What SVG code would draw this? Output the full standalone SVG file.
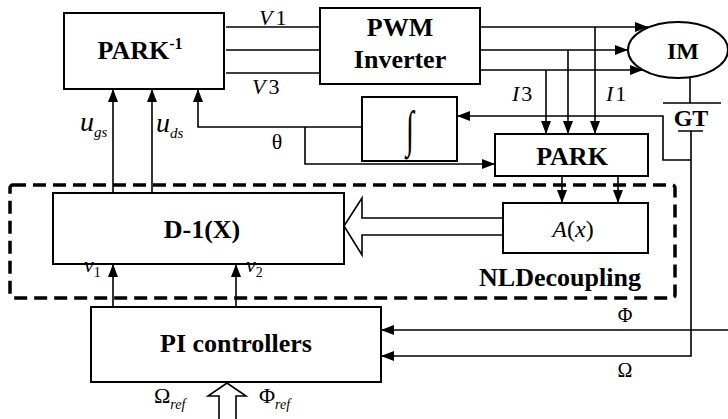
<svg xmlns="http://www.w3.org/2000/svg" width="728" height="419" viewBox="0 0 728 419">
<style>
.box{fill:#fff;stroke:#000;stroke-width:2}
.ln{fill:none;stroke:#000;stroke-width:1.6}
.hol{fill:#fff;stroke:#000;stroke-width:1.6}
.b{font-family:"Liberation Serif",serif;font-weight:bold;font-size:26px;fill:#000;text-anchor:middle}
.i{font-family:"Liberation Serif",serif;font-style:italic;font-size:22px;fill:#000}
.r{font-family:"Liberation Serif",serif;font-size:22px;fill:#000}
.s{font-family:"Liberation Serif",serif;font-style:italic;font-size:14px;fill:#000}
</style>
<defs>
<marker id="ah" markerUnits="userSpaceOnUse" markerWidth="13" markerHeight="10" refX="13" refY="5" orient="auto">
<path d="M0,0 L13,5 L0,10 z" fill="#000"/>
</marker>
</defs>
<rect width="728" height="419" fill="#fff"/>

<g id="nldecoupling">
<rect x="10" y="185" width="665" height="113" rx="3" fill="none" stroke="#000" stroke-width="3.5" stroke-dasharray="13,7"/>
<text class="b" x="560" y="286">NLDecoupling</text>
</g>

<g id="connectors">
<path class="ln" d="M226,27 H320 M226,50 H320 M226,73 H320"/>
<path class="ln" d="M480,27 H648" marker-end="url(#ah)"/>
<path class="ln" d="M480,50 H628" marker-end="url(#ah)"/>
<path class="ln" d="M480,70 H643" marker-end="url(#ah)"/>
<path class="ln" d="M595,27 V134" marker-end="url(#ah)"/>
<path class="ln" d="M568,50 V134" marker-end="url(#ah)"/>
<path class="ln" d="M546,70 V134" marker-end="url(#ah)"/>
<path class="ln" d="M690,78 V103"/>
<path class="ln" d="M663,103 H721 M678,131 H703" stroke-width="2"/>
<path class="ln" d="M691,131 V356 H381" marker-end="url(#ah)"/>
<path class="ln" d="M691,160 H663 V116 H457" marker-end="url(#ah)"/>
<path class="ln" d="M362,127 H198 V89" marker-end="url(#ah)"/>
<path class="ln" d="M305,127 V164 H495" marker-end="url(#ah)"/>
<path class="ln" d="M113,193 V89" marker-end="url(#ah)"/>
<path class="ln" d="M152,193 V89" marker-end="url(#ah)"/>
<path class="ln" d="M562,176 V203" marker-end="url(#ah)"/>
<path class="ln" d="M618,176 V203" marker-end="url(#ah)"/>
<path class="ln" d="M113,307 V264" marker-end="url(#ah)"/>
<path class="ln" d="M236,307 V264" marker-end="url(#ah)"/>
<path class="ln" d="M728,330 H381" marker-end="url(#ah)"/>
<path class="hol" d="M503,218 H362 V198 L344,226 L362,255 V235 H503"/>
<path class="hol" d="M219,419 V396 H208 L227,383 L246,396 H236 V419"/>
</g>

<g id="park_inv">
<rect class="box" x="64" y="13" width="160" height="76"/>
<text class="b" x="140" y="59">PARK<tspan style="font-size:16px" dy="-10">-1</tspan></text>
</g>

<g id="pwm">
<rect class="box" x="320" y="8" width="160" height="76"/>
<text class="b" x="400" y="36">PWM</text>
<text class="b" x="400" y="68">Inverter</text>
</g>

<g id="im">
<ellipse cx="678" cy="50" rx="50" ry="28" fill="#fff" stroke="#000" stroke-width="2"/>
<text class="b" x="683" y="59" style="font-size:24px">IM</text>
</g>

<g id="gt">
<text class="b" x="691" y="126" style="font-size:24px">GT</text>
</g>

<g id="integrator">
<rect class="box" x="362" y="97" width="95" height="64"/>
<text class="r" text-anchor="middle" transform="translate(410,146) scale(1.3,2.3)">∫</text>
</g>

<g id="park">
<rect class="box" x="495" y="134" width="153" height="42"/>
<text class="b" x="572" y="165">PARK</text>
</g>

<g id="d1x">
<rect class="box" x="53" y="193" width="291" height="71"/>
<text class="b" x="202" y="238">D-1(X)</text>
</g>

<g id="ax">
<rect class="box" x="503" y="203" width="145" height="50"/>
<text class="r" x="573" y="237" text-anchor="middle" style="font-size:24px"><tspan font-style="italic">A</tspan>(<tspan font-style="italic">x</tspan>)</text>
</g>

<g id="pi">
<rect class="box" x="91" y="307" width="290" height="75"/>
<text class="b" x="236" y="352">PI controllers</text>
</g>

<g id="labels">
<text class="i" x="259" y="25">V<tspan font-style="normal" dx="3">1</tspan></text>
<text class="i" x="252" y="94">V<tspan font-style="normal" dx="3">3</tspan></text>
<text class="i" x="512" y="101">I<tspan font-style="normal" dx="2">3</tspan></text>
<text class="i" x="606" y="101">I<tspan font-style="normal" dx="2">1</tspan></text>
<text class="r" x="277" y="149" text-anchor="middle">θ</text>
<text class="i" x="80" y="131" style="font-size:28px">u<tspan class="s" dy="6" style="font-size:15px">gs</tspan></text>
<text class="i" x="156" y="132" style="font-size:28px">u<tspan class="s" dy="6" style="font-size:15px">ds</tspan></text>
<text class="i" x="84" y="272">v<tspan style="font-style:normal;font-size:14px" dy="5">1</tspan></text>
<text class="i" x="246" y="272">v<tspan style="font-style:normal;font-size:14px" dy="5">2</tspan></text>
<text class="r" x="625" y="322" text-anchor="middle" style="font-size:20px">Φ</text>
<text class="r" x="625" y="377" text-anchor="middle" style="font-size:20px">Ω</text>
<text class="r" x="154" y="403">Ω<tspan class="s" dy="6">ref</tspan></text>
<text class="r" x="259" y="403">Φ<tspan class="s" dy="6">ref</tspan></text>
</g>
</svg>
